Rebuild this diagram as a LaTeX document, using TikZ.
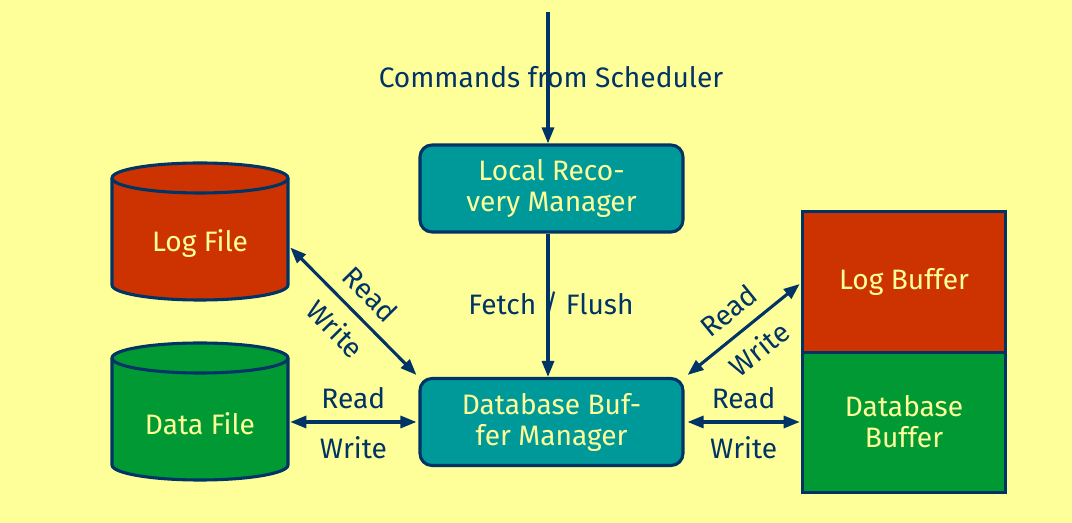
\documentclass[tikz,border=0pt]{standalone}
\usepackage{fontspec}
\setmainfont{Fira Sans}
\usetikzlibrary{arrows.meta,calc}
\definecolor{bg}{HTML}{FFFF99}
\definecolor{ink}{HTML}{003366}
\definecolor{teal}{HTML}{009999}
\definecolor{redf}{HTML}{CC3300}
\definecolor{greenf}{HTML}{009933}
\definecolor{lighttext}{HTML}{FFFF99}
\tikzset{
  every node/.style={font=\fontsize{20}{22}\selectfont},
  mgr/.style={draw=ink, line width=2.2pt, fill=teal, text=lighttext, rounded corners=0.3cm,
    minimum width=263*0.025cm, minimum height=87*0.025cm, align=center, inner sep=0pt},
  area/.style={inner sep=0pt, text=lighttext, align=center},
  lbl/.style={text=ink, inner sep=0pt},
  conn/.style={draw=ink, line width=2.2pt},
  dbl/.style={conn, {Triangle[length=0.4cm,width=0.3cm]}-{Triangle[length=0.4cm,width=0.3cm]}},
  sgl/.style={conn, -{Triangle[length=0.4cm,width=0.3cm]}},
  cylline/.style={draw=ink, line width=2.2pt}
}
\begin{document}
\begin{tikzpicture}[x=0.025cm,y=-0.025cm]
\fill[bg] (0,0) rectangle (1072,523);
\useasboundingbox (0,0) rectangle (1072,523);
% managers
\node[mgr] (lrm) at (551.5,188.5) {Local Reco-\\very Manager};
\node[mgr] (dbm) at (551.5,422) {Database Buf-\\fer Manager};
% cylinders
\foreach \nm/\cy/\col/\txt in {logf/163/redf/Log File, dataf/343/greenf/Data File}{
  \path[cylline, fill=\col] (112,\cy+15) -- (112,\cy+122) arc[start angle=180,end angle=0,x radius=88,y radius=15]
     -- (288,\cy+15) arc[start angle=0,end angle=-180,x radius=88,y radius=15] -- cycle;
  \draw[cylline] (112,\cy+15) arc[start angle=180,end angle=0,x radius=88,y radius=15];
  \node[area, minimum width=176*0.025cm, minimum height=137*0.025cm] (\nm) at (200,\cy+68.5) {};
  \node[area] at (200,\cy+81) {\txt};
}
% buffers
\node[area, fill=redf, minimum width=202*0.025cm, minimum height=140*0.025cm] (logb) at (904,282) {Log Buffer};
\node[area, fill=greenf, minimum width=202*0.025cm, minimum height=140*0.025cm] (datab) at (904,422) {Database\\Buffer};
\draw[cylline] (logb.north west) rectangle (datab.south east);
\draw[cylline] (logb.south west) -- (logb.south east);
% labels on vertical arrows
\node[lbl] (cmd) at (551,77) {Commands from Scheduler};
\node[lbl] (ff) at (551,305) {Fetch / Flush};
\coordinate (top) at (548,12);
\draw[sgl] (top) -- (lrm.north -| top);
\draw[sgl] (lrm.south -| top) -- (dbm.north -| top);
% connectors
\draw[dbl] ($(logf.east)+(2,16)$) -- node[lbl, sloped, above=0.3cm] {Read} node[lbl, sloped, below=0.3cm] {Write} ($(dbm.north west)+(-2,-2)$);
\draw[dbl] ($(dbm.west -| dataf.east)+(2,0)$) -- node[lbl, above=0.3cm] {Read} node[lbl, below=0.32cm] {Write} ($(dbm.west)+(-2,0)$);
\draw[dbl] ($(dbm.north east)+(3,-2)$) -- node[lbl, sloped, above=0.3cm] {Read} node[lbl, sloped, below=0.3cm] {Write} ($(logb.west)+(-3,2)$);
\draw[dbl] ($(dbm.east)+(3,0)$) -- node[lbl, above=0.3cm] {Read} node[lbl, below=0.32cm] {Write} ($(datab.west)+(-3,0)$);
\end{tikzpicture}
\end{document}
